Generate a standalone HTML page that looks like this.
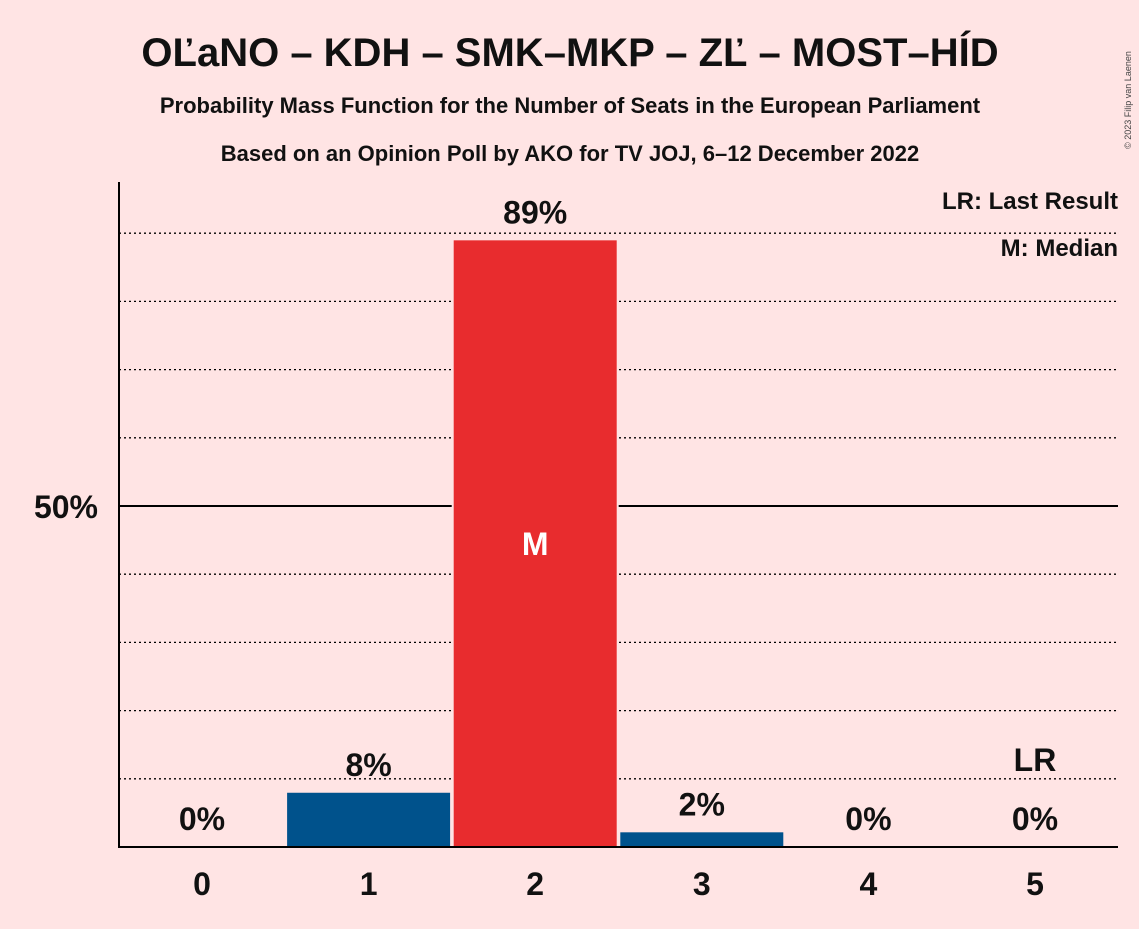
<!DOCTYPE html>
<html><head><meta charset="utf-8"><style>
body{margin:0;background:#ffe4e4;font-family:"Liberation Sans",sans-serif;}
svg text{font-family:"Liberation Sans",sans-serif;font-weight:bold;}
</style></head><body>
<svg id="chart" width="1139" height="924">
<rect width="1139" height="924" fill="#ffe4e4"/>
<text x="570" y="66" font-size="40" text-anchor="middle" fill="#111">OĽaNO – KDH – SMK–MKP – ZĽ – MOST–HÍD</text>
<text x="570" y="113" font-size="22" text-anchor="middle" fill="#111">Probability Mass Function for the Number of Seats in the European Parliament</text>
<text x="570" y="161" font-size="22" text-anchor="middle" fill="#111">Based on an Opinion Poll by AKO for TV JOJ, 6–12 December 2022</text>
<text x="1131" y="100" font-size="9" fill="#444" transform="rotate(-90 1131 100)" text-anchor="middle" style="font-weight:normal">© 2023 Filip van Laenen</text>
<g id="grid"></g>
<g id="bars"></g>
<line x1="119" y1="182" x2="119" y2="848" stroke="#000" stroke-width="2"/>
<line x1="118" y1="847" x2="1118" y2="847" stroke="#000" stroke-width="2"/>
<text x="98" y="518" font-size="32" text-anchor="end" fill="#111">50%</text>
<text x="1118" y="209" font-size="24" text-anchor="end" fill="#111">LR: Last Result</text>
<text x="1118" y="256" font-size="24" text-anchor="end" fill="#111">M: Median</text>
</svg>
<script>
const categories=[0,1,2,3,4,5];
const values=[0,8.1,89.1,2.3,0,0];
const labels=["0%","8%","89%","2%","0%","0%"];
const medianIndex=2;
const lastResultIndex=5;
const ns="http://www.w3.org/2000/svg";
const svg=document.getElementById('chart');
const grid=document.getElementById('grid');
const bars=document.getElementById('bars');
const y0=847, pxPer=6.82;
function y(v){return y0-v*pxPer;}
function x(i){return 202+i*166.6;}
const bw=165;
function mk(t,a,p){const e=document.createElementNS(ns,t);for(const k in a)e.setAttribute(k,a[k]);p.appendChild(e);return e;}
for(let g=10;g<=90;g+=10){
 const l=mk('line',{x1:119,x2:1118,y1:y(g),y2:y(g),stroke:'#000','stroke-width':g==50?2:1.3,'stroke-dasharray':g==50?'':'2,3'},grid);
 
 
}
categories.forEach((c,i)=>{
 const v=values[i];
 if(v>0){
  const r=mk('rect',{x:x(i)-bw/2,y:y(v),width:bw,height:y0-y(v),fill:i==medianIndex?'#e82c2e':'#00528c',stroke:'#ffe4e4','stroke-width':2},bars);
  
  
 }
 const ly=v>0?y(v)-16:y0-17;
 const t=mk('text',{x:x(i),y:ly,'font-size':32,'text-anchor':'middle',fill:'#111'},bars);
 t.textContent=labels[i];
 
 
 const xt=mk('text',{x:x(i),y:895,'font-size':32,'text-anchor':'middle',fill:'#111'},svg);
 xt.textContent=c;
 
 
 if(i==medianIndex){
  const m=mk('text',{x:x(i),y:y(v/2)+12,'font-size':32,'text-anchor':'middle',fill:'#fff'},bars);
  m.textContent='M';
  
  
 }
 if(i==lastResultIndex){
  const m=mk('text',{x:x(i),y:771,'font-size':32,'text-anchor':'middle',fill:'#111'},bars);
  m.textContent='LR';
  
  
 }
});
</script>
</body></html>
